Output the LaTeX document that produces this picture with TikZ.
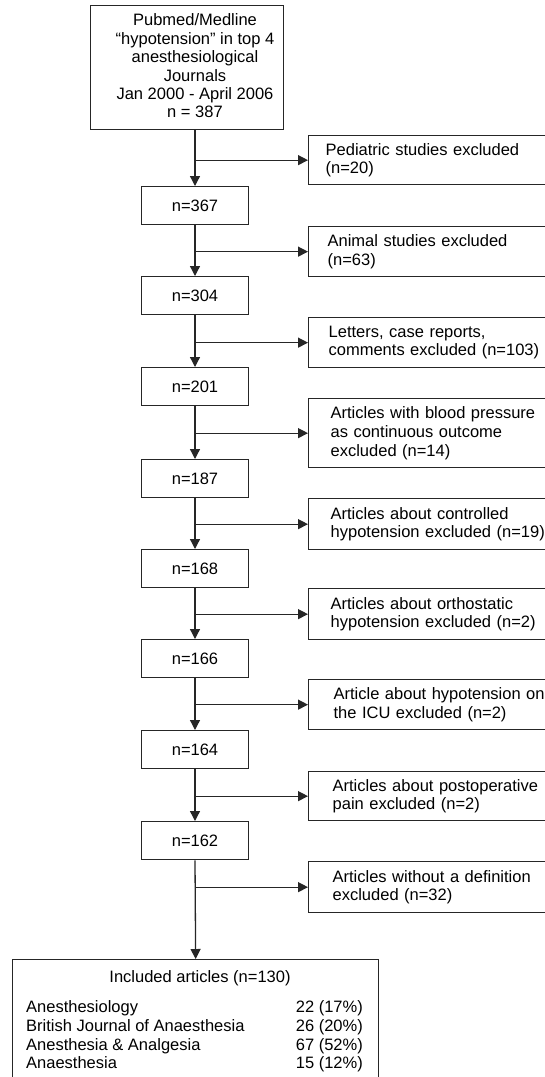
\documentclass[tikz,border=0pt]{standalone}
\usepackage{fontspec}
\setmainfont{Liberation Sans}
\usetikzlibrary{arrows.meta}
\begin{document}
\begin{tikzpicture}[x=1pt,y=-1pt,
  every node/.style={font=\fontsize{16.5}{18.6}\selectfont, text=black},
  box/.style={draw=black!85, line width=1.3pt, inner sep=0pt},
  nbox/.style={box, minimum width=107pt, minimum height=38pt, anchor=north},
  side/.style={box, anchor=north west, text width=250pt, align=left, inner ysep=0pt},
  lbl/.style={inner sep=0pt},
  arr/.style={draw=black!85, line width=1.3pt, -{Triangle[length=10pt,width=10pt]}}]
\path[use as bounding box] (0,0) rectangle (545,1077);
\clip (0,0) rectangle (545,1077);

% source box
\node[box, anchor=north west, minimum width=193pt, minimum height=124pt] (src) at (90,5) {};
\node[lbl, align=center, font=\fontsize{16.5}{18.4}\selectfont] (srctext) at (195,66)
  {Pubmed/Medline\\“hypotension” in top 4\\anesthesiological\\Journals\\Jan 2000 - April 2006\\n = 387};

% count boxes
\node[nbox] (n367) at (195,186) {n=367};
\node[nbox] (n304) at (195,276) {n=304};
\node[nbox] (n201) at (195,367) {n=201};
\node[nbox] (n187) at (195,459) {n=187};
\node[nbox] (n168) at (195,549) {n=168};
\node[nbox] (n166) at (195,639) {n=166};
\node[nbox] (n164) at (195,730) {n=164};
\node[nbox] (n162) at (195,821) {n=162};

% exclusion boxes
\node[side, minimum height=49pt, inner xsep=17pt] (ped) at (308,135) {Pediatric studies excluded\\(n=20)};
\node[side, minimum height=50pt, inner xsep=19pt] (ani) at (308,226) {Animal studies excluded\\(n=63)};
\node[side, minimum height=50pt, inner xsep=20pt] (let) at (308,317) {Letters, case reports,\\comments excluded (n=103)};
\node[side, minimum height=69pt, inner xsep=22pt] (bp) at (308,398) {Articles with blood pressure\\as continuous outcome\\excluded (n=14)};
\node[side, minimum height=51pt, inner xsep=22pt] (ctl) at (308,498) {Articles about controlled\\hypotension excluded (n=19)};
\node[side, minimum height=51pt, inner xsep=22pt] (ort) at (308,588) {Articles about orthostatic\\hypotension excluded (n=2)};
\node[side, minimum height=50pt, inner xsep=25pt] (icu) at (308,679) {Article about hypotension on\\the ICU excluded (n=2)};
\node[side, minimum height=49pt, inner xsep=24pt] (pop) at (308,771) {Articles about postoperative\\pain excluded (n=2)};
\node[side, minimum height=51pt, inner xsep=24pt] (def) at (308,861) {Articles without a definition\\excluded (n=32)};

% included box
\node[box, anchor=north west, minimum width=366pt, minimum height=140pt] (incl) at (12,959) {};
\node[lbl, anchor=base] (incltitle) at (200,982) {Included articles (n=130)};
\node[lbl, anchor=base west] (j1) at (26,1012) {Anesthesiology};
\node[lbl, anchor=base west] (j2) at (26,1031) {British Journal of Anaesthesia};
\node[lbl, anchor=base west] (j3) at (26,1050) {Anesthesia \& Analgesia};
\node[lbl, anchor=base west] (j4) at (26,1068) {Anaesthesia};
\node[lbl, anchor=base east] (v1) at (363,1012) {22 (17\%)};
\node[lbl, anchor=base east] (v2) at (363,1031) {26 (20\%)};
\node[lbl, anchor=base east] (v3) at (363,1050) {67 (52\%)};
\node[lbl, anchor=base east] (v4) at (363,1068) {15 (12\%)};

% main flow
\draw[arr] (src.south -| n367.north) -- (n367.north);
\draw[arr] (n367.south) -- (n304.north);
\draw[arr] (n304.south) -- (n201.north);
\draw[arr] (n201.south) -- (n187.north);
\draw[arr] (n187.south) -- (n168.north);
\draw[arr] (n168.south) -- (n166.north);
\draw[arr] (n166.south) -- (n164.north);
\draw[arr] (n164.south) -- (n162.north);
\draw[arr] (n162.south) -- (incl.north);

% exclusion branches
\draw[arr] (n367.north |- ped.west) -- (ped.west);
\draw[arr] (n304.north |- ani.west) -- (ani.west);
\draw[arr] (n201.north |- let.west) -- (let.west);
\draw[arr] (n187.north |- bp.west) -- (bp.west);
\draw[arr] (n168.north |- ctl.west) -- (ctl.west);
\draw[arr] (n166.north |- ort.west) -- (ort.west);
\draw[arr] (n164.north |- icu.west) -- (icu.west);
\draw[arr] (n162.north |- pop.west) -- (pop.west);
\draw[arr] (incl.north |- def.west) -- (def.west);
\end{tikzpicture}
\end{document}
